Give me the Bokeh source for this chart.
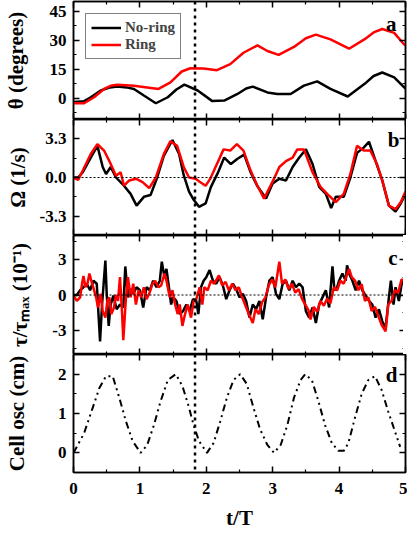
from bokeh.plotting import figure
from bokeh.layouts import column
from bokeh.models import LinearAxis, FixedTicker, Span, Legend, LegendItem, Range1d, Label
from bokeh.embed import file_html
from bokeh.resources import INLINE

FONT = "Liberation Serif"

# ---------------- data ----------------
x_ticks = [0, 1, 2, 3, 4, 5]
x_minor = [0.5, 1.5, 2.5, 3.5, 4.5]
x_tick_labels = ["0", "1", "2", "3", "4", "5"]
marker_t = 1.83

# panel a : theta (degrees)
theta_t_noring = [0, 0.16, 0.26, 0.41, 0.55, 0.66, 0.8, 0.91, 1.06, 1.24, 1.42, 1.55, 1.67,
                  1.87, 2.09, 2.27, 2.47, 2.6, 2.7, 2.92, 3.07, 3.27, 3.47, 3.67, 3.87, 4.13,
                  4.38, 4.52, 4.65, 4.83, 4.98, 5.0]
theta_noring = [-2, -1.5, 0.5, 4, 5.6, 6, 5.6, 4.8, 1.4, -2.6, 0.5, 4.5, 7,
                4, -1.5, -1.2, 2.2, 5, 6, 3, 2.2, 2.2, 6.5, 8.7, 4.8, 0.9,
                7.3, 11.5, 13.3, 10.8, 5.6, 5.0]
theta_t_ring = [0, 0.16, 0.31, 0.46, 0.56, 0.66, 0.91, 1.11, 1.28, 1.46, 1.63, 1.76, 1.96,
                2.16, 2.36, 2.56, 2.77, 2.92, 3.09, 3.32, 3.5, 3.65, 3.87, 4.15, 4.38,
                4.52, 4.65, 4.83, 4.98, 5.0]
theta_ring = [-2.6, -2.6, 0.5, 4.8, 6.4, 7, 6.5, 5.6, 4.8, 8.2, 13.8, 15.5, 15.4,
              14.5, 17.6, 23.5, 27.3, 24.4, 22.4, 26.5, 31, 32.9, 30.4, 25.6, 30.4,
              34, 35.8, 33.8, 27.8, 27.5]
theta_ticks = [0, 15, 30, 45]
theta_minor = [-7.5, 7.5, 22.5, 37.5]
theta_tick_labels = ["0", "15", "30", "45"]

# panel b : Omega (1/s)
omega_t_noring = [0, 0.07, 0.14, 0.26, 0.36, 0.44, 0.49, 0.56, 0.64, 0.76,
                  0.86, 0.95, 1.06, 1.16, 1.26, 1.36, 1.49, 1.59, 1.66, 1.74,
                  1.81, 1.89, 1.99, 2.07, 2.17, 2.27, 2.37, 2.47, 2.57, 2.67,
                  2.77, 2.90, 3.0, 3.1, 3.2, 3.3, 3.4, 3.5, 3.6, 3.7,
                  3.8, 3.88, 3.95, 4.07, 4.17, 4.27, 4.37, 4.45, 4.55, 4.65,
                  4.75, 4.85, 4.93, 5.0]
omega_noring = [0, 0, 0.45, 1.7, 2.7, 0.9, 0.3, 0.9, 0, -0.7,
                -1.4, -2.4, -1.65, -1.5, 0, 1.85, 3.2, 2.0, 0.2, -1.2,
                -1.9, -2.5, -2.2, -0.8, 0.35, 1.7, 1.15, 1.6, 1.95, 0.4,
                -0.75, -1.8, -0.5, -0.1, -0.25, 0.9, 1.7, 2.4, 1.15, -0.8,
                -1.4, -2.6, -1.65, -1.65, 0, 2.1, 2.55, 3.05, 1.4, -0.25,
                -2.4, -2.9, -2.2, -1.4]
omega_t_ring = [0, 0.07, 0.14, 0.26, 0.36, 0.46, 0.54, 0.64, 0.71, 0.76,
                0.84, 0.94, 1.04, 1.14, 1.24, 1.36, 1.46, 1.56, 1.66, 1.74,
                1.84, 1.91, 1.99, 2.06, 2.16, 2.26, 2.36, 2.46, 2.56, 2.66,
                2.76, 2.87, 3.02, 3.1, 3.2, 3.3, 3.37, 3.47, 3.6, 3.72,
                3.82, 3.95, 4.07, 4.17, 4.27, 4.37, 4.47, 4.57, 4.65, 4.75,
                4.85, 4.93, 5.0]
omega_ring = [0, -0.2, 0.6, 2.0, 2.85, 2.3, 1.4, 0.15, 0.45, -0.7,
              -0.25, -0.1, -0.4, -0.9, 0, 2.0, 3.1, 2.7, 0.9, 0,
              -0.1, -0.4, -0.7, -0.1, 1.15, 2.4, 2.3, 2.85, 2.3, 0.7,
              -0.6, -1.8, -0.1, 0.9, 1.4, 1.7, 2.4, 2.4, 0.45, -0.8,
              -1.4, -2.1, -1.4, 0.3, 2.7, 2.3, 2.3, 1.15, -0.25, -2.4,
              -2.7, -2.1, -1.2]
omega_ticks = [-3.3, 0.0, 3.3]
omega_minor = [-4.95, -1.65, 1.65, 4.95]
omega_tick_labels = ["-3.3", "0.0", "3.3"]

# panel c : tau / tau_max (10^-1)
tau_t_noring = [0, .05, .1, .15, .2, .25, .3, .35, .4, .43,
                .45, .48, .5, .53, .56, .6, .65, .7, .75, .78,
                .82, .85, .9, .95, 1.0, 1.05, 1.1, 1.15, 1.2, 1.25,
                1.3, 1.33, 1.37, 1.4, 1.43, 1.47, 1.5, 1.55, 1.6, 1.65,
                1.7, 1.75, 1.8, 1.85, 1.88, 1.92, 1.96, 2.0, 2.05, 2.1,
                2.15, 2.2, 2.25, 2.3, 2.35, 2.4, 2.45, 2.5, 2.55, 2.6,
                2.65, 2.7, 2.75, 2.8, 2.85, 2.9, 2.95, 3.0, 3.05, 3.1,
                3.15, 3.2, 3.25, 3.3, 3.35, 3.4, 3.45, 3.5, 3.55, 3.6,
                3.65, 3.7, 3.75, 3.8, 3.85, 3.9, 3.93, 3.97, 4.0, 4.05,
                4.1, 4.12, 4.15, 4.2, 4.25, 4.3, 4.35, 4.4, 4.45, 4.5,
                4.55, 4.6, 4.65, 4.7, 4.75, 4.78, 4.82, 4.85, 4.9, 4.95,
                5.0]
tau_noring = [0, 0, .4, .65, .95, .4, 1.2, .95, -3.9, -.8,
              .65, 2.9, .1, -2.6, -.8, -.05, -1.2, -.8, -1.05, 2.4,
              -.2, .5, .1, .65, .4, -1.05, .65, .4, 1.2, .65,
              1.2, 2.8, 1.5, 2.2, .95, -.8, -.2, -.5, -1.6, -1.35,
              -.8, -1.35, -.35, -.5, -1.6, .65, 1.2, 1.5, 2.1, 1.2,
              .95, 1.5, .8, -.35, .4, .95, .5, -.2, .1, -.5,
              -1.9, -.8, -1.2, -.5, -2.05, -.2, 1.2, 1.5, .1, -.35,
              .95, 1.2, .4, 1.2, .65, .95, .65, -1.35, -1.9, -1.05,
              -2.35, -.8, -.2, .4, -1.05, 2.4, .4, .65, 1.2, 1.8,
              1.2, 2.5, 1.8, 1.2, .4, 1.2, .4, -.05, -.5, -.8,
              -1.9, -1.2, -2.2, -2.8, -.2, 1.2, -.8, .65, -.5, 1.2,
              1.2]
tau_t_ring = [0, 0.05, 0.1, 0.13, 0.15, 0.18, 0.21, 0.24, 0.28, 0.3,
              0.34, 0.37, 0.41, 0.44, 0.48, 0.51, 0.54, 0.57, 0.61, 0.64,
              0.67, 0.7, 0.73, 0.75, 0.79, 0.82, 0.86, 0.9, 0.94, 0.98,
              1.02, 1.06, 1.1, 1.14, 1.19, 1.23, 1.28, 1.32, 1.37, 1.4,
              1.45, 1.49, 1.53, 1.57, 1.6, 1.64, 1.68, 1.72, 1.77, 1.81,
              1.85, 1.9, 1.94, 1.97, 2.02, 2.07, 2.12, 2.19, 2.24, 2.29,
              2.34, 2.39, 2.44, 2.49, 2.54, 2.59, 2.64, 2.7, 2.74, 2.79,
              2.84, 2.89, 2.94, 2.99, 3.04, 3.1, 3.14, 3.19, 3.24, 3.29,
              3.34, 3.39, 3.44, 3.49, 3.54, 3.57, 3.62, 3.67, 3.72, 3.77,
              3.82, 3.87, 3.92, 3.97, 4.02, 4.07, 4.15, 4.19, 4.24, 4.29,
              4.34, 4.39, 4.44, 4.49, 4.54, 4.59, 4.64, 4.7, 4.74, 4.79,
              4.84, 4.89, 4.94, 5.0]
tau_ring = [-0.05, -0.5, -0.2, 1.0, 1.6, 0.65, 0.95, 1.8, 0.95, 0.6,
            -0.2, -1.05, 0.1, -1.35, -1.9, -0.5, -0.2, -1.6, -1.05, 0.0,
            -0.5, 1.5, -1.35, -3.8, -0.2, 1.5, -0.2, 0.95, -0.8, 0.4,
            -0.2, 0.65, -0.35, 0.1, 0.95, 1.2, 0.65, 0.8, 1.8, 1.2,
            -0.2, 0.4, -0.8, -1.6, -0.8, -2.6, -1.6, -0.8, -1.9, -0.5,
            -0.35, 0.65, -0.8, 0.65, 0.4, 1.2, 0.95, 1.65, 0.8, 1.1,
            0.4, 0.95, 0.4, 0.65, -0.2, -0.9, -1.6, -2.35, -1.2, -1.6,
            -0.6, -0.2, 0.8, 1.3, 0.65, 2.8, 0.95, 1.3, 0.5, 0.95,
            0.2, 0.5, -0.3, -0.8, -1.3, -2.05, -1.0, -1.4, -0.5, -0.9,
            -0.3, -0.7, 0.65, 0.4, 1.2, 0.95, 2.2, 1.5, 1.2, 0.4,
            0.9, -0.5, -0.2, -1.35, -1.0, -1.75, -2.5, -3.05, -0.8, -0.5,
            0.4, 0.2, 1.3, 1.2]
tau_ticks = [-3, 0, 3]
tau_minor = [-4.5, -1.5, 1.5, 4.5]
tau_tick_labels = ["-3", "0", "3"]

# panel d : cell oscillation (cm)
cell_t = [0.0, 0.16, 0.29, 0.39, 0.49, 0.59, 0.69, 0.79, 0.89, 1.01,
          1.11, 1.21, 1.31, 1.42, 1.54, 1.64, 1.74, 1.81, 1.89, 2.01,
          2.11, 2.21, 2.31, 2.41, 2.51, 2.61, 2.71, 2.81, 2.92, 3.02,
          3.12, 3.22, 3.32, 3.42, 3.49, 3.59, 3.69, 3.79, 3.89, 3.99,
          4.07, 4.14, 4.24, 4.34, 4.44, 4.54, 4.64, 4.74, 4.84, 4.92]
cell_osc = [0.0, 0.5, 1.15, 1.65, 1.95, 1.95, 1.4, 0.8, 0.3, 0.0,
            0.2, 0.7, 1.3, 1.85, 2.0, 1.7, 1.15, 0.7, 0.3, 0.0,
            0.25, 0.8, 1.4, 1.85, 2.0, 1.75, 1.15, 0.6, 0.2, 0.0,
            0.2, 0.7, 1.4, 1.85, 2.0, 1.85, 1.3, 0.7, 0.25, 0.05,
            0.05, 0.25, 0.9, 1.5, 1.85, 1.95, 1.6, 1.05, 0.55, 0.15]
cell_ticks = [0, 1, 2]
cell_minor = [-0.5, 0.5, 1.5, 2.5]
cell_tick_labels = ["0", "1", "2"]

# ---------------- styling helpers ----------------
FRAME_W = 332
LEFT = 68


def style_ticks(ax, show_labels):
    ax.axis_line_color = "black"
    ax.axis_line_width = 1.5
    ax.major_tick_in = 6
    ax.major_tick_out = 0
    ax.minor_tick_in = 3
    ax.minor_tick_out = 0
    ax.major_tick_line_width = 1.5
    ax.minor_tick_line_width = 1.2
    ax.major_tick_line_color = "black"
    ax.minor_tick_line_color = "black"
    if show_labels:
        ax.major_label_text_font = FONT
        ax.major_label_text_font_style = "bold"
        ax.major_label_text_font_size = "17px"
        ax.major_label_text_color = "black"
        ax.major_label_standoff = 7
    else:
        ax.major_label_text_font_size = "0px"
        ax.major_label_text_color = None
        ax.major_label_standoff = 0


def make_panel(frame_h, yrange, yticks, yminor, ylabels, ylabel, ystandoff,
               top_border=0, bottom_border=0, show_x=False):
    p = figure(frame_width=FRAME_W, frame_height=frame_h,
               x_range=Range1d(0, 5), y_range=Range1d(*yrange),
               output_backend="svg", toolbar_location=None,
               min_border_left=LEFT, min_border_right=3,
               min_border_top=top_border, min_border_bottom=bottom_border)
    p.grid.visible = False
    p.outline_line_color = "black"
    p.outline_line_width = 1.5
    p.background_fill_color = "white"
    p.border_fill_color = "white"

    xt = FixedTicker(ticks=x_ticks, minor_ticks=x_minor)
    yt = FixedTicker(ticks=yticks, minor_ticks=yminor)

    bottom = p.below[0]
    left = p.left[0]
    bottom.ticker = xt
    left.ticker = yt
    style_ticks(bottom, show_x)
    style_ticks(left, True)
    left.major_label_overrides = {v: s for v, s in zip(yticks, ylabels)}
    bottom.major_label_overrides = {v: s for v, s in zip(x_ticks, x_tick_labels)}

    left.axis_label = ylabel
    left.axis_label_text_font = FONT
    left.axis_label_text_font_style = "bold"
    left.axis_label_text_font_size = "21px"
    left.axis_label_text_color = "black"
    left.axis_label_standoff = ystandoff

    top = LinearAxis(ticker=xt)
    style_ticks(top, False)
    p.add_layout(top, "above")
    right = LinearAxis(ticker=yt)
    style_ticks(right, False)
    p.add_layout(right, "right")

    p.add_layout(Span(location=marker_t, dimension="height", line_color="black",
                      line_width=2.5, line_dash="3 4"))
    return p


def panel_letter(p, x, y, txt):
    p.add_layout(Label(x=x, y=y, text=txt, text_align="right",
                       text_baseline="alphabetic", text_font=FONT,
                       text_font_style="bold", text_font_size="21px",
                       text_color="black"))


# ---------------- panel a ----------------
pa = make_panel(118, (-11, 50), theta_ticks, theta_minor, theta_tick_labels,
                "θ (degrees)", 19, top_border=1)
r_black = pa.line(theta_t_noring, theta_noring, line_color="black", line_width=2.5)
r_red = pa.line(theta_t_ring, theta_ring, line_color="red", line_width=2.5)
legend = Legend(items=[LegendItem(label="No-ring", renderers=[r_black]),
                       LegendItem(label="Ring", renderers=[r_red])],
                location="top_left", margin=12, padding=5, spacing=0,
                label_text_font=FONT, label_text_font_style="bold",
                label_text_font_size="15px", label_height=13, glyph_height=13,
                glyph_width=30, label_standoff=4,
                border_line_color="black", border_line_width=1.5,
                background_fill_color="white", background_fill_alpha=1)
pa.add_layout(legend)
panel_letter(pa, 4.865, 38.6, "a")

# ---------------- panel b ----------------
pb = make_panel(116, (-4.95, 4.95), omega_ticks, omega_minor, omega_tick_labels,
                "Ω (1/s)", 7)
pb.add_layout(Span(location=0, dimension="width", line_color="black",
                   line_width=1, line_dash="2 2"))
pb.line(omega_t_noring, omega_noring, line_color="black", line_width=2.5)
pb.line(omega_t_ring, omega_ring, line_color="red", line_width=2.5)
panel_letter(pb, 4.91, 3.16, "b")

# ---------------- panel c ----------------
pc = make_panel(119, (-5, 5), tau_ticks, tau_minor, tau_tick_labels,
                "τ/τₘₐₓ (10⁻¹)", 17)
pc.add_layout(Span(location=0, dimension="width", line_color="black",
                   line_width=1, line_dash="2 2"))
pc.line(tau_t_noring, tau_noring, line_color="black", line_width=2.5)
pc.line(tau_t_ring, tau_ring, line_color="red", line_width=2.5)
panel_letter(pc, 4.88, 3.08, "c")

# ---------------- panel d ----------------
pd = make_panel(118, (-0.5, 2.5), cell_ticks, cell_minor, cell_tick_labels,
                "Cell osc (cm)", 26, bottom_border=58, show_x=True)
pd.line(cell_t, cell_osc, line_color="black", line_width=2, line_dash="7 4 2 4 2 4")
xb = pd.below[0]
xb.major_label_standoff = 10
xb.axis_label = "t/T"
xb.axis_label_text_font = FONT
xb.axis_label_text_font_style = "bold"
xb.axis_label_text_font_size = "21px"
xb.axis_label_text_color = "black"
xb.axis_label_standoff = 9
panel_letter(pd, 4.88, 1.97, "d")

layout = column(pa, pb, pc, pd, spacing=0)

open("out.html", "w").write(file_html(layout, INLINE))
